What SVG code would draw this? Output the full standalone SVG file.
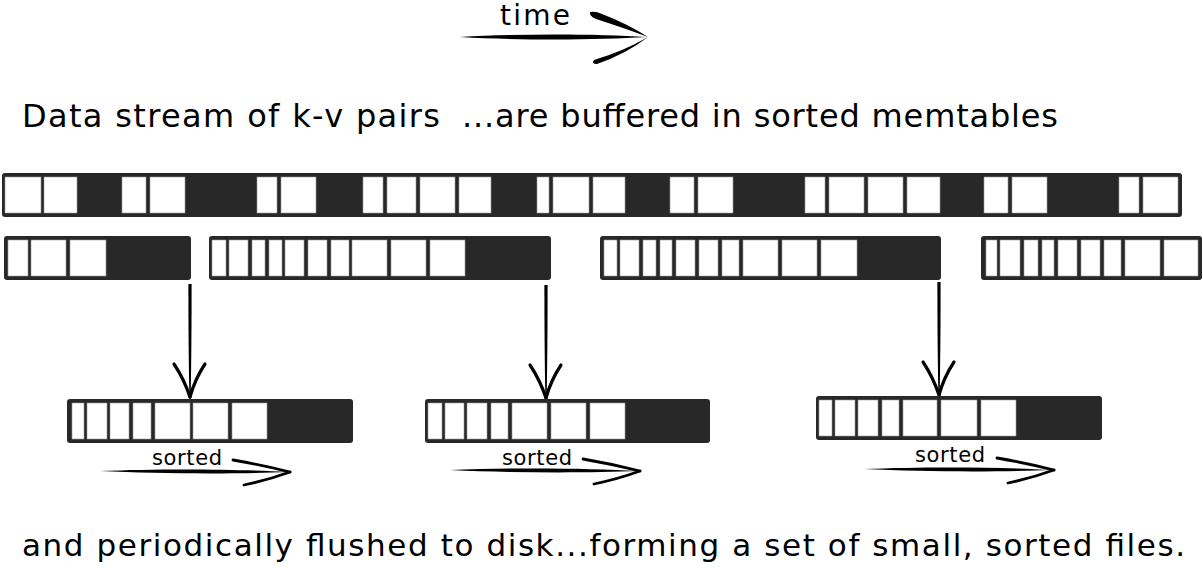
<svg xmlns="http://www.w3.org/2000/svg" width="1203" height="568" viewBox="0 0 1203 568">
<style>
.dk{fill:#282828}
.c{fill:#fff;stroke:#9a9a9a;stroke-width:0.6}
.ink{fill:#000}
.arm{fill:none;stroke:#000;stroke-linecap:round}
.t{font-family:"DejaVu Sans","Liberation Sans",sans-serif;fill:#000}
</style>
<defs>
<g id="va">
<path class="ink" d="M-1.6,-113 L1.6,-113 C1.6,-60 1.1,-20 0.6,0 L-0.6,0 C-1.1,-20 -1.6,-60 -1.6,-113 Z"/>
<path class="arm" stroke-width="3.2" d="M-16,-33 Q-6,-18 0,0"/>
<path class="arm" stroke-width="3.2" d="M15,-33 Q5,-18 0,0"/>
</g>
<g id="sa">
<path class="ink" d="M-190,-1 C-130,-3.5 -50,-3 -2,0 C-50,2 -130,2 -190,-1 Z"/>
<path class="arm" stroke-width="2.8" d="M-57,-12 Q-28,-7 0,0"/>
<path class="arm" stroke-width="2.8" d="M0,0 Q-22,8 -46,13"/>
</g>
</defs>

<g id="time-arrow">
<text class="t" x="500" y="25" font-size="28" textLength="70" lengthAdjust="spacing">time</text>
<path class="ink" d="M460,37 C520,33.5 600,34 646,37 C600,40 520,40.5 460,37 Z"/>
<path class="ink" d="M590,12 Q596,11 602,14 Q628,24 648,37 Q624,28 596,19 Q589,16 590,12 Z"/>
<path class="ink" d="M648,37 Q624,51 594,60 Q591,64 597,64 Q626,54 648,37 Z"/>
</g>

<g id="label-top">
<text class="t" x="22" y="127" font-size="32" textLength="418" lengthAdjust="spacing">Data stream of k-v pairs</text>
<text class="t" x="462" y="127" font-size="32" textLength="596" lengthAdjust="spacing">...are buffered in sorted memtables</text>
</g>

<g id="stream">
<rect class="dk" x="2" y="173" width="1180" height="44" rx="3"/>
<g transform="translate(0,177)">
<rect class="c" x="5" width="36" height="36"/>
<rect class="c" x="44" width="33" height="36"/>
<rect class="c" x="122" width="24" height="36"/>
<rect class="c" x="150" width="35" height="36"/>
<rect class="c" x="257" width="20" height="36"/>
<rect class="c" x="281" width="35" height="36"/>
<rect class="c" x="363" width="20" height="36"/>
<rect class="c" x="387" width="29" height="36"/>
<rect class="c" x="420" width="35" height="36"/>
<rect class="c" x="459" width="32" height="36"/>
<rect class="c" x="537" width="12" height="36"/>
<rect class="c" x="553" width="36" height="36"/>
<rect class="c" x="593" width="32" height="36"/>
<rect class="c" x="670" width="24" height="36"/>
<rect class="c" x="698" width="35" height="36"/>
<rect class="c" x="805" width="20" height="36"/>
<rect class="c" x="829" width="35" height="36"/>
<rect class="c" x="868" width="35" height="36"/>
<rect class="c" x="907" width="33" height="36"/>
<rect class="c" x="984" width="24" height="36"/>
<rect class="c" x="1012" width="35" height="36"/>
<rect class="c" x="1119" width="20" height="36"/>
<rect class="c" x="1143" width="35" height="36"/>
</g>
</g>

<g id="memtable-1">
<rect class="dk" x="4" y="236" width="187" height="44" rx="3"/>
<g transform="translate(0,240)">
<rect class="c" x="8" width="20" height="36"/>
<rect class="c" x="31" width="35" height="36"/>
<rect class="c" x="70" width="36" height="36"/>
</g>
</g>

<g id="memtable-2">
<rect class="dk" x="209" y="236" width="342" height="44" rx="3"/>
<g transform="translate(0,240)">
<rect class="c" x="212" width="14" height="36"/>
<rect class="c" x="229" width="19" height="36"/>
<rect class="c" x="252" width="13" height="36"/>
<rect class="c" x="269" width="13" height="36"/>
<rect class="c" x="285" width="19" height="36"/>
<rect class="c" x="308" width="19" height="36"/>
<rect class="c" x="331" width="18" height="36"/>
<rect class="c" x="352" width="35" height="36"/>
<rect class="c" x="391" width="35" height="36"/>
<rect class="c" x="430" width="35" height="36"/>
</g>
</g>

<g id="memtable-3">
<rect class="dk" x="600" y="236" width="341" height="44" rx="3"/>
<g transform="translate(0,240)">
<rect class="c" x="604" width="13" height="36"/>
<rect class="c" x="620" width="19" height="36"/>
<rect class="c" x="643" width="13" height="36"/>
<rect class="c" x="660" width="12" height="36"/>
<rect class="c" x="676" width="19" height="36"/>
<rect class="c" x="699" width="19" height="36"/>
<rect class="c" x="722" width="17" height="36"/>
<rect class="c" x="743" width="35" height="36"/>
<rect class="c" x="782" width="35" height="36"/>
<rect class="c" x="821" width="36" height="36"/>
</g>
</g>

<g id="memtable-4">
<rect class="dk" x="981" y="236" width="221" height="44" rx="3"/>
<g transform="translate(0,240)">
<rect class="c" x="986" width="11" height="36"/>
<rect class="c" x="1000" width="20" height="36"/>
<rect class="c" x="1024" width="14" height="36"/>
<rect class="c" x="1042" width="12" height="36"/>
<rect class="c" x="1058" width="19" height="36"/>
<rect class="c" x="1081" width="19" height="36"/>
<rect class="c" x="1104" width="17" height="36"/>
<rect class="c" x="1125" width="35" height="36"/>
<rect class="c" x="1164" width="34" height="36"/>
</g>
</g>

<g id="connectors">
<use href="#va" x="190" y="397"/>
<use href="#va" x="546" y="398"/>
<use href="#va" x="939" y="395"/>
</g>

<g id="sorted-file-1">
<rect class="dk" x="67" y="399" width="286" height="44" rx="3"/>
<g transform="translate(0,403)">
<rect class="c" x="72" width="12" height="36"/>
<rect class="c" x="87" width="20" height="36"/>
<rect class="c" x="110" width="19" height="36"/>
<rect class="c" x="133" width="18" height="36"/>
<rect class="c" x="155" width="35" height="36"/>
<rect class="c" x="193" width="35" height="36"/>
<rect class="c" x="232" width="35" height="36"/>
</g>
<text class="t" x="187" y="465" font-size="21" text-anchor="middle" textLength="70" lengthAdjust="spacing">sorted</text>
<use href="#sa" x="290" y="472"/>
</g>

<g id="sorted-file-2">
<rect class="dk" x="425" y="399" width="285" height="44" rx="3"/>
<g transform="translate(0,403)">
<rect class="c" x="428" width="14" height="36"/>
<rect class="c" x="445" width="19" height="36"/>
<rect class="c" x="467" width="20" height="36"/>
<rect class="c" x="491" width="17" height="36"/>
<rect class="c" x="512" width="35" height="36"/>
<rect class="c" x="551" width="35" height="36"/>
<rect class="c" x="590" width="35" height="36"/>
</g>
<text class="t" x="537" y="465" font-size="21" text-anchor="middle" textLength="70" lengthAdjust="spacing">sorted</text>
<use href="#sa" x="640" y="471"/>
</g>

<g id="sorted-file-3">
<rect class="dk" x="816" y="396" width="286" height="44" rx="3"/>
<g transform="translate(0,400)">
<rect class="c" x="819" width="13" height="36"/>
<rect class="c" x="835" width="20" height="36"/>
<rect class="c" x="858" width="20" height="36"/>
<rect class="c" x="882" width="17" height="36"/>
<rect class="c" x="903" width="34" height="36"/>
<rect class="c" x="941" width="36" height="36"/>
<rect class="c" x="981" width="35" height="36"/>
</g>
<text class="t" x="950" y="462" font-size="21" text-anchor="middle" textLength="70" lengthAdjust="spacing">sorted</text>
<use href="#sa" x="1054" y="470"/>
</g>

<g id="label-bottom">
<text class="t" x="22" y="556" font-size="31" textLength="1163" lengthAdjust="spacing">and periodically flushed to disk...forming a set of small, sorted files.</text>
</g>
</svg>
